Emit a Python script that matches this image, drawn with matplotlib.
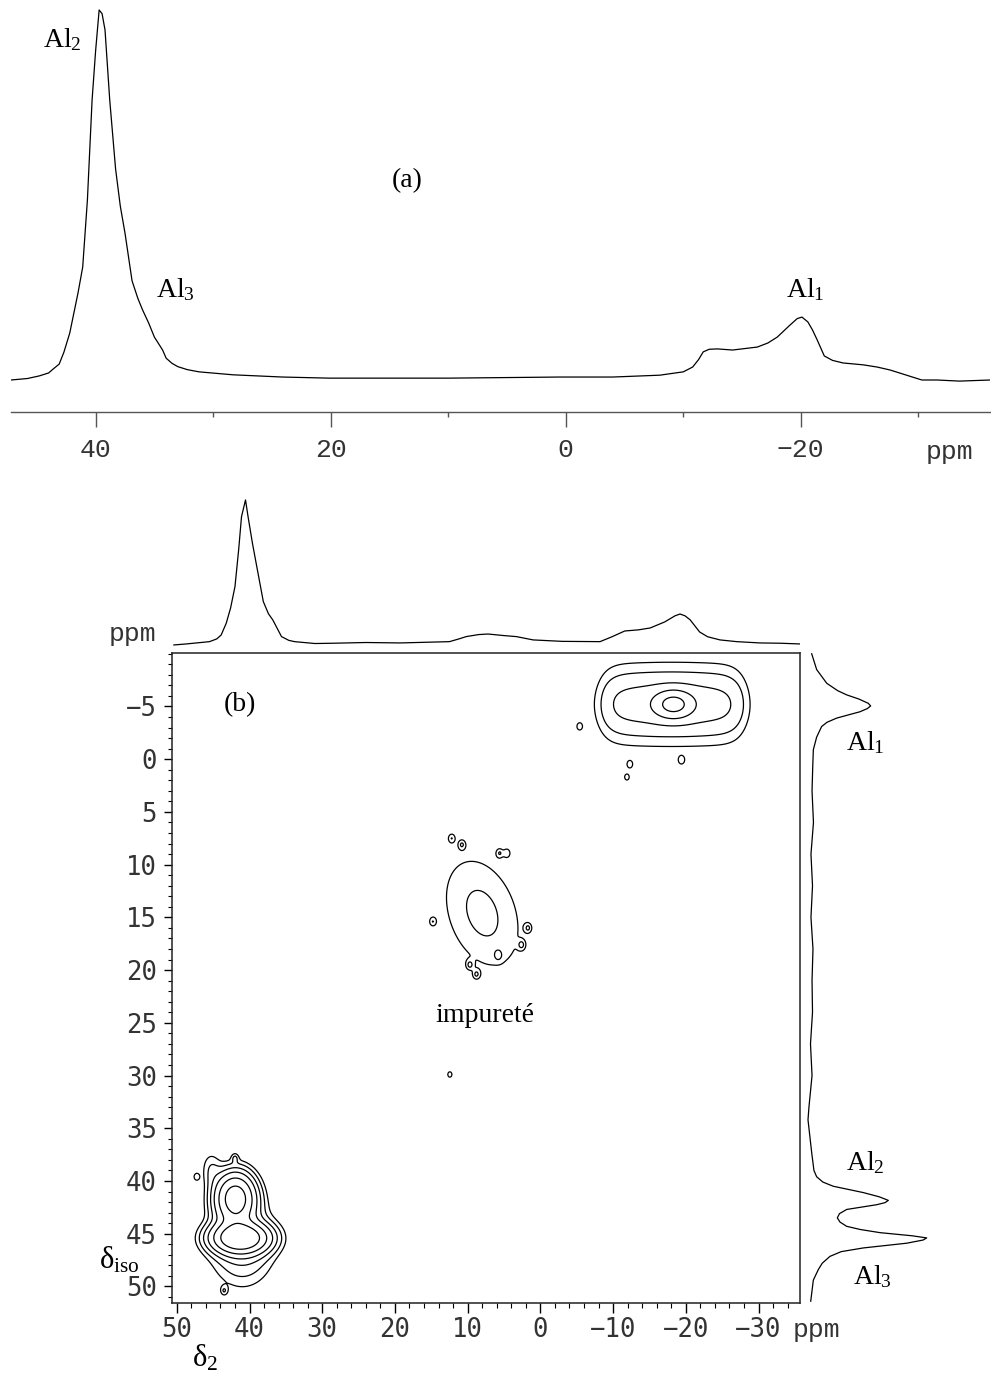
import numpy as np
import matplotlib.pyplot as plt
from matplotlib.ticker import MultipleLocator, FixedLocator

plt.rcParams['mathtext.fontset'] = 'custom'
plt.rcParams['mathtext.rm'] = 'Liberation Serif'
plt.rcParams['mathtext.it'] = 'Liberation Serif:italic'

serif = 'Liberation Serif'
mono = 'Liberation Mono'
smono = 'DejaVu Sans Mono'
gris = '#333333'

# (a) spectre 1D (ppm, intensite relative)
ppm_a = [47.2, 45.8, 44.8, 44.0, 43.6, 43.1, 42.7, 42.2, 41.5, 41.1, 40.7, 40.3, 40.0,
         39.7, 39.45, 39.2, 38.8, 38.3, 37.9, 37.5, 36.9, 36.4, 36.0, 35.5, 35.0, 34.3,
         34.0, 33.5, 33.0, 32.2, 31.2, 28.3, 24.1, 20.1, 10.0, 0.5, -4.0, -8.0, -10.0,
         -10.8, -11.3, -11.7, -12.2, -12.9, -14.2, -16.3, -17.2, -18.0, -19.1, -19.7,
         -20.1, -20.6, -21.0, -21.4, -22.0, -22.7, -23.6, -25.3, -26.5, -27.6, -29.0,
         -30.3, -31.6, -33.5, -36.1]
int_a = [0.0, 0.4, 1.1, 1.9, 3.0, 4.3, 7.5, 12.7, 23.5, 30.5, 48.6, 75.7, 89.0,
         100.0, 99.0, 94.6, 75.7, 57.0, 47.0, 39.7, 26.8, 22.0, 18.9, 15.5, 11.6, 8.1,
         5.9, 4.5, 3.6, 2.8, 2.2, 1.4, 0.8, 0.5, 0.5, 0.8, 0.8, 1.3, 2.2,
         3.5, 5.5, 7.6, 8.3, 8.4, 8.1, 8.9, 10.0, 11.6, 14.9, 16.6,
         17.0, 15.7, 13.5, 10.8, 6.5, 5.3, 4.6, 4.1, 3.5, 2.7, 1.3,
         0.0, 0.0, -0.3, 0.0]

# (b) projection sur delta2 (haut)
d2_proj = [50.4, 48.7, 45.5, 44.5, 43.9, 43.2, 42.6, 42.0, 41.5, 41.1, 40.55, 40.2,
           39.6, 39.0, 38.1, 37.4, 36.8, 35.6, 34.6, 33.8, 31.0, 28.5, 24.0, 19.3,
           15.5, 12.5, 11.2, 10.2, 8.5, 7.2, 5.0, 3.3, 1.0, -3.0, -8.2, -9.8, -11.6,
           -13.5, -15.1, -17.1, -18.5, -19.2, -19.9, -20.6, -21.9, -23.0, -24.7,
           -27.0, -30.2, -33.0, -35.7]
int_d2 = [-0.7, 0.0, 1.6, 3.5, 6.2, 14.4, 25.0, 39.8, 65.0, 88.4, 100.0, 88.4,
          70.0, 53.7, 29.4, 21.0, 16.7, 5.1, 2.5, 1.6, 0.3, 0.5, 1.0, 0.7,
          1.2, 1.6, 3.5, 5.1, 6.5, 6.9, 5.8, 5.1, 2.8, 1.8, 1.6, 4.9, 9.0,
          9.8, 11.1, 15.3, 19.5, 20.8, 19.5, 16.7, 8.3, 5.0, 2.8,
          1.6, 0.7, 0.5, 0.0]

# (b) projection sur delta iso (droite)
diso_proj = [-10.0, -8.5, -7.2, -6.5, -6.1, -5.7, -5.3, -5.05, -4.8, -4.5, -4.2,
             -3.9, -3.5, -3.1, -2.1, -0.9, 0.7, 3.0, 6.0, 9.0, 12.0, 15.0, 18.0,
             21.0, 24.0, 27.0, 30.0, 33.0, 34.2, 37.3, 39.0, 39.6, 40.1, 40.5, 41.1,
             41.5, 41.84, 42.05, 42.25, 42.7, 43.1, 43.5, 43.9, 44.3, 44.6, 44.9,
             45.2, 45.4, 45.6, 45.9, 46.35, 46.7, 47.15, 47.8, 48.4, 49.4, 51.4]
int_diso = [3.1, 7.3, 15.8, 25.0, 32.6, 43.0, 50.8, 52.8, 50.0, 43.8, 34.0,
            24.2, 16.0, 11.5, 7.3, 4.5, 4.0, 3.4, 4.6, 2.5, 3.8, 2.5, 4.2,
            3.4, 3.8, 2.1, 3.4, 0.8, 0.0, 3.1, 5.0, 7.3, 12.5, 21.3, 46.6,
            60.0, 67.7, 65.0, 57.9, 32.6, 26.5, 24.7, 27.0, 32.6, 44.0, 60.7,
            88.0, 100.0, 97.0, 83.2, 46.6, 28.0, 18.5, 12.0, 8.7, 4.5, 2.3]

# (b) composantes du spectre 2D
pic_nom = ['Al1 coeur', 'Al1 plateau', 'Al1 bosse', 'Al2', 'Al3', 'Al2/Al3 base',
           'Al2 queue', 'impurete']
pic_d2 = [-18.3, -18.15, -18.0, 41.95, 41.3, 41.0, 45.3, 8.0]
pic_diso = [-5.2, -5.2, -5.2, 41.65, 45.4, 46.0, 38.8, 14.6]
pic_w2 = [2.3, 10.0, 11.0, 2.4, 3.3, 4.0, 1.3, 5.9]
pic_wiso = [1.1, 3.6, 3.0, 2.1, 1.24, 3.5, 1.6, 5.9]
pic_amp = [0.29, 0.105, 0.055, 0.80, 0.95, 0.15, 0.06, 0.08]
pic_n2 = [2, 8, 2, 2, 2, 2, 2, 2]
pic_rho = [0, 0, 0, 0, 0, 0, 0, -0.3]

# petits points de bruit isoles
bruit_d2 = [-5.4, -12.3, -19.4, -11.9, 12.2, 10.8, 5.6, 4.6, 14.8, 1.7, 2.6,
            5.8, 9.7, 8.8, 12.45, 42.0, 47.3, 43.5]
bruit_diso = [-3.1, 0.5, 0.1, 1.7, 7.5, 8.1, 8.9, 8.9, 15.4, 16.0, 17.6,
              18.6, 19.5, 20.4, 29.9, 37.8, 39.6, 50.4]

niveaux = [0.04, 0.07, 0.12, 0.2, 0.35, 0.6]

fig = plt.figure(figsize=(9.91, 13.76), dpi=100)
W, H = 991.0, 1376.0

def boite(x0, y0, x1, y1):
    return [x0 / W, 1 - y1 / H, (x1 - x0) / W, (y1 - y0) / H]

# ---------- (a) ----------
axa = fig.add_axes(boite(11, 0, 990, 412))
axa.plot(ppm_a, int_a, color='k', lw=0.9)
axa.set_xlim(47.2, -36.1)
axa.set_ylim(-8.65, 102.7)
for s in ['top', 'left', 'right']:
    axa.spines[s].set_visible(False)
axa.spines['bottom'].set_color('#555555')
axa.spines['bottom'].set_linewidth(1.0)
axa.set_yticks([])
axa.xaxis.set_major_locator(FixedLocator([40, 20, 0, -20]))
axa.xaxis.set_minor_locator(FixedLocator([30, 10, -10, -30]))
axa.tick_params(axis='x', which='major', length=10.5, width=1, color='#555555',
                labelsize=19, labelcolor=gris, pad=8)
axa.tick_params(axis='x', which='minor', length=3.4, width=1, color='#555555')
for t in axa.get_xticklabels():
    t.set_family(mono)
axa.text(42.8, 92, r'Al$_\mathrm{2}$', family=serif, fontsize=20, ha='center', va='center')
axa.text(33.2, 24.3, r'Al$_\mathrm{3}$', family=serif, fontsize=20, ha='center', va='center')
axa.text(-20.4, 24.3, r'Al$_\mathrm{1}$', family=serif, fontsize=20, ha='center', va='center')
axa.text(13.5, 54, '(a)', family=serif, fontsize=20, ha='center', va='center')

# ---------- (b) carte 2D ----------
axb = fig.add_axes(boite(171.7, 652.7, 800, 1303.3))
d2 = np.linspace(-36, 51, 871)
diso = np.linspace(-10.5, 52, 626)
D2, DISO = np.meshgrid(d2, diso)
Z = np.zeros_like(D2)
for i in range(len(pic_nom)):
    u = (D2 - pic_d2[i]) / pic_w2[i]
    v = (DISO - pic_diso[i]) / pic_wiso[i]
    r = pic_rho[i]
    if r:
        Z += pic_amp[i] * np.exp(-(u**2 - 2 * r * u * v + v**2) / (1 - r**2))
    else:
        Z += pic_amp[i] * np.exp(-np.abs(u)**pic_n2[i] - v**2)
for x, y in zip(bruit_d2, bruit_diso):
    Z += 0.055 * np.exp(-((D2 - x) / 0.5)**2 - ((DISO - y) / 0.45)**2)

axb.contour(D2, DISO, Z, levels=niveaux, colors='k', linewidths=0.9)
axb.set_xlim(50.7, -35.7)
axb.set_ylim(51.6, -10.1)
for s in axb.spines.values():
    s.set_linewidth(1.1)
    s.set_color('#222222')
axb.xaxis.set_major_locator(MultipleLocator(10))
axb.xaxis.set_minor_locator(MultipleLocator(2))
axb.yaxis.set_major_locator(FixedLocator(np.arange(-5, 51, 5)))
axb.yaxis.set_minor_locator(MultipleLocator(1))
axb.tick_params(axis='x', which='major', length=7, width=1, labelsize=18.5, labelcolor=gris, pad=3)
axb.tick_params(axis='x', which='minor', length=3.6, width=0.8)
axb.tick_params(axis='y', which='major', length=6, width=1, labelsize=18.5, labelcolor=gris, pad=4.5)
axb.tick_params(axis='y', which='minor', length=3, width=0.8)
for t in axb.get_xticklabels() + axb.get_yticklabels():
    t.set_family(smono)
axb.text(41.3, -5.15, '(b)', family=serif, fontsize=20, ha='center', va='center')
axb.text(7.6, 24.3, 'impureté', family=serif, fontsize=20, ha='center', va='center')

# projection haute
axh = fig.add_axes(boite(171.7, 490, 800, 650))
axh.plot(d2_proj, int_d2, color='k', lw=0.9)
axh.set_xlim(50.7, -35.7)
axh.set_ylim(-4.2, 106.9)
axh.axis('off')

# projection droite
axd = fig.add_axes(boite(800, 652.7, 991, 1303.3))
axd.plot(int_diso, diso_proj, color='k', lw=0.9)
axd.set_xlim(-6.74, 154.2)
axd.set_ylim(51.6, -10.1)
axd.axis('off')
axd.text(48, -1.55, r'Al$_\mathrm{1}$', family=serif, fontsize=20, ha='center', va='center')
axd.text(48, 38.3, r'Al$_\mathrm{2}$', family=serif, fontsize=20, ha='center', va='center')
axd.text(54, 49.05, r'Al$_\mathrm{3}$', family=serif, fontsize=20, ha='center', va='center')

# legendes des axes
fig.text(950 / W, 1 - 452 / H, 'ppm', family=mono, fontsize=19, color=gris, ha='center', va='center')
fig.text(133 / W, 1 - 634 / H, 'ppm', family=mono, fontsize=19, color=gris, ha='center', va='center')
fig.text(817 / W, 1 - 1330 / H, 'ppm', family=mono, fontsize=19, color=gris, ha='center', va='center')
fig.text(119 / W, 1 - 1260 / H, r'δ$_\mathrm{iso}$', family=serif, fontsize=22, ha='center', va='center')
fig.text(205 / W, 1 - 1358 / H, r'δ$_\mathrm{2}$', family=serif, fontsize=22, ha='center', va='center')

fig.savefig('out.png', dpi=100)
